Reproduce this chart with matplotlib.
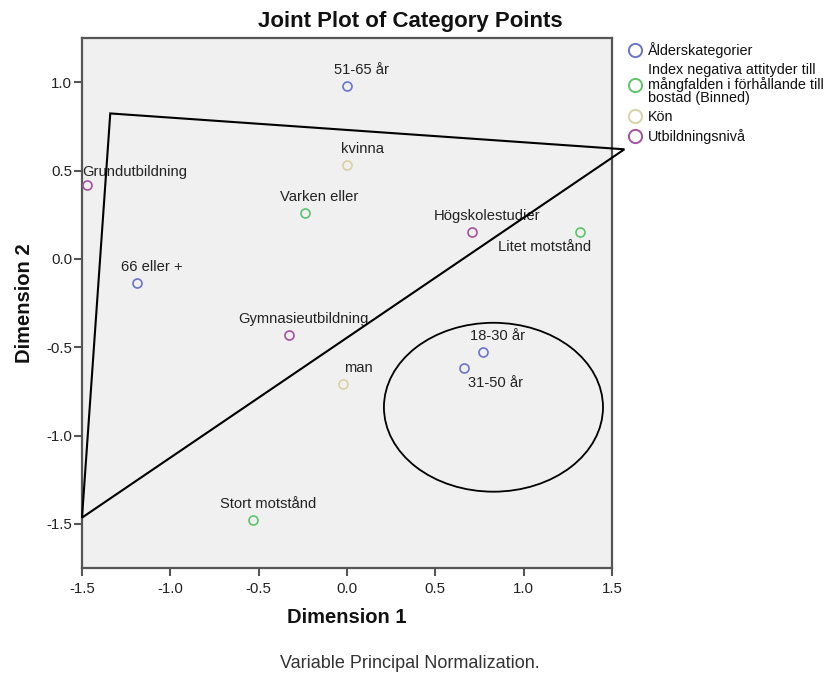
import matplotlib
matplotlib.use("Agg")
import matplotlib.pyplot as plt
from matplotlib.patches import Ellipse, Polygon
from matplotlib.lines import Line2D

plt.rcParams['font.family'] = ['Liberation Sans', 'DejaVu Sans']

# ---- data ----
groups = ["Ålderskategorier",
          "Index negativa attityder till\nmångfalden i förhållande till\nbostad (Binned)",
          "Kön",
          "Utbildningsnivå"]
group_colors = ["#6a75c8", "#5cc46c", "#dad1a5", "#a2529e"]

labels = ["51-65 år", "66 eller +", "18-30 år", "31-50 år",
          "Varken eller", "Litet motstånd", "Stort motstånd",
          "kvinna", "man",
          "Grundutbildning", "Gymnasieutbildning", "Högskolestudier"]
dim1 = [0.00, -1.19, 0.77, 0.66,
        -0.24, 1.32, -0.53,
        0.00, -0.02,
        -1.47, -0.33, 0.71]
dim2 = [0.98, -0.135, -0.53, -0.62,
        0.26, 0.15, -1.48,
        0.53, -0.71,
        0.42, -0.43, 0.15]
group_of = [0, 0, 0, 0, 1, 1, 1, 2, 2, 3, 3, 3]

# hand-drawn annotation shapes (data coords)
tri_x = [-1.34, 1.57, -1.50]
tri_y = [0.823, 0.62, -1.465]
ell_center = (0.829, -0.84)
ell_w, ell_h = 1.24, 0.956

# ---- style: label offsets in pixels (dx, dy, ha, va) ----
default_off = (15, 16, 'center', 'center')
special_off = {
    "Grundutbildning": (-5, 13, 'left', 'center'),
    "Litet motstånd": (11, -15, 'right', 'center'),
    "31-50 år": (4, -15, 'left', 'center'),
}

fig = plt.figure(figsize=(8.3, 6.74), dpi=100)
ax = fig.add_axes([82/830, 1 - 568/674, (612-82)/830, (568-38)/674])
ax.set_facecolor("#f0f0f0")
ax.set_xlim(-1.5, 1.5)
ax.set_ylim(-1.75, 1.25)
ax.set_xticks([-1.5, -1.0, -0.5, 0.0, 0.5, 1.0, 1.5])
ax.set_yticks([-1.5, -1.0, -0.5, 0.0, 0.5, 1.0])
ax.set_xticklabels([f"{v:.1f}" for v in ax.get_xticks()])
ax.set_yticklabels([f"{v:.1f}" for v in ax.get_yticks()])
for s in ax.spines.values():
    s.set_color("#555555")
    s.set_linewidth(1.6)
ax.tick_params(direction='out', length=6, width=1.5, color="#555555",
               labelsize=10.8, labelcolor="#222222")
ax.tick_params(axis='x', pad=4)
ax.tick_params(axis='y', pad=1)

for i, lab in enumerate(labels):
    c = group_colors[group_of[i]]
    ax.plot(dim1[i], dim2[i], 'o', ms=6.5, mfc='none', mec=c, mew=1.2, zorder=3)
    dx, dy, ha, va = special_off.get(lab, default_off)
    ax.annotate(lab, (dim1[i], dim2[i]), xytext=(dx*0.72, dy*0.72),
                textcoords='offset points', ha=ha, va=va, fontsize=10.6,
                color="#222222", zorder=4)

tri = Polygon(list(zip(tri_x, tri_y)), closed=True, fill=False,
              edgecolor='black', linewidth=1.5, clip_on=False, zorder=5)
ax.add_patch(tri)
ell = Ellipse(ell_center, ell_w, ell_h, fill=False, edgecolor='black',
              linewidth=1.3, zorder=5)
ax.add_patch(ell)

fig.text(410/830, 1 - 21/674, "Joint Plot of Category Points", fontsize=16,
         fontweight='bold', ha='center', va='center', color="#111111")
ax.set_xlabel("Dimension 1", fontsize=14.5, fontweight='bold', labelpad=9,
              color="#111111")
ax.set_ylabel("Dimension 2", fontsize=14.5, fontweight='bold', labelpad=9,
              color="#111111")

handles = [Line2D([], [], marker='o', ls='none', ms=9.5, mfc='none', mec=c, mew=1.4)
           for c in group_colors]
leg = fig.legend(handles, groups, loc='upper left',
                 bbox_to_anchor=(628/830, 1 - 42/674),
                 frameon=False, fontsize=10.4, handlelength=0.9, handletextpad=0.45,
                 labelspacing=0.36, borderpad=0, borderaxespad=0)
for t in leg.get_texts():
    t.set_linespacing(0.95)
    t.set_color("#111111")

fig.text(410/830, 1 - 663/674, "Variable Principal Normalization.",
         ha='center', va='center', fontsize=13, color="#333333")

fig.savefig("out.png", dpi=100)
